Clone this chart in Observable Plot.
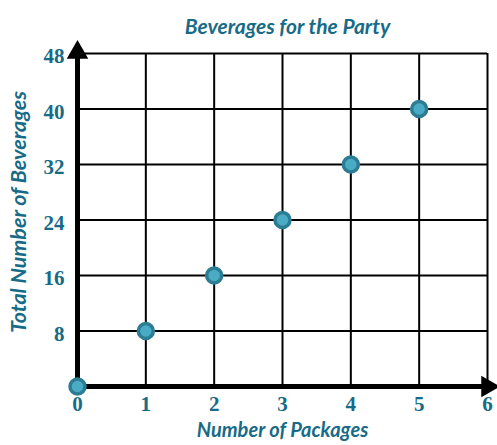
<!DOCTYPE html>
<html>
<head>
<meta charset="utf-8">
<script src="https://cdn.jsdelivr.net/npm/d3@7"></script>
<script src="https://cdn.jsdelivr.net/npm/@observablehq/plot@0.6"></script>
<style>
  html, body { margin: 0; padding: 0; background: white; }
  #chart svg { overflow: visible; }
</style>
</head>
<body>
<div id="chart"></div>
<script>
const packages = [0, 1, 2, 3, 4, 5];
const beverages = [0, 8, 16, 24, 32, 40];
const xTicks = [0, 1, 2, 3, 4, 5, 6];
const yTicks = [8, 16, 24, 32, 40, 48];
const xDomain = [0, 6];
const yDomain = [0, 48];
const title = "Beverages for the Party";
const xLabel = "Number of Packages";
const yLabel = "Total Number of Beverages";

const points = packages.map((p, i) => ({x: p, y: beverages[i]}));
const teal = "#176b86";
const labelFont = "Lato, 'Open Sans', sans-serif";
const tickFont = "'Liberation Serif', 'DejaVu Serif', serif";

const chart = Plot.plot({
  width: 497,
  height: 445,
  marginLeft: 77,
  marginRight: 10,
  marginTop: 53,
  marginBottom: 59,
  x: {domain: xDomain, axis: null},
  y: {domain: yDomain, axis: null},
  marks: [
    Plot.ruleX(xTicks.slice(1), {y1: yDomain[0], y2: yDomain[1], stroke: "black", strokeWidth: 2}),
    Plot.ruleY([0, ...yTicks], {x1: xDomain[0], x2: xDomain[1], stroke: "black", strokeWidth: 2}),
    Plot.ruleY([yDomain[0]], {x1: xDomain[0], x2: xDomain[1], stroke: "black", strokeWidth: 5}),
    Plot.ruleX([xDomain[0]], {y1: yDomain[0], y2: yDomain[1], stroke: "black", strokeWidth: 5}),
    Plot.dot([{x: xDomain[1], y: yDomain[0]}], {x: "x", y: "y", symbol: "triangle", rotate: 90, r: 8, fill: "black", stroke: "none", dx: 0}),
    Plot.dot([{x: xDomain[0], y: yDomain[1]}], {x: "x", y: "y", symbol: "triangle", r: 8, fill: "black", stroke: "none", dy: -1}),
    Plot.dot(points, {x: "x", y: "y", r: 7.5, fill: "#4aabc5", stroke: "#2c7d93", strokeWidth: 3.5}),
    Plot.text(xTicks, {x: d => d, frameAnchor: "bottom", dy: 24, text: d => String(d), fill: teal, fontSize: 21, fontWeight: "bold", fontFamily: tickFont}),
    Plot.text(yTicks, {y: d => d, frameAnchor: "left", dx: -13, dy: 3, textAnchor: "end", text: d => String(d), fill: teal, fontSize: 21, fontWeight: "bold", fontFamily: tickFont}),
    Plot.text([title], {frameAnchor: "top", dy: -34, dx: 5, text: d => d, fill: teal, fontSize: 21, fontWeight: "bold", fontStyle: "italic", fontFamily: labelFont}),
    Plot.text([xLabel], {frameAnchor: "bottom", dy: 50, text: d => d, fill: teal, fontSize: 20, fontWeight: "bold", fontStyle: "italic", fontFamily: labelFont}),
    Plot.text([yLabel], {frameAnchor: "left", textAnchor: "middle", dx: -58, dy: -8, rotate: -90, text: d => d, fill: teal, fontSize: 21.5, fontWeight: "bold", fontStyle: "italic", fontFamily: labelFont})
  ]
});
document.getElementById("chart").appendChild(chart);
</script>
</body>
</html>
